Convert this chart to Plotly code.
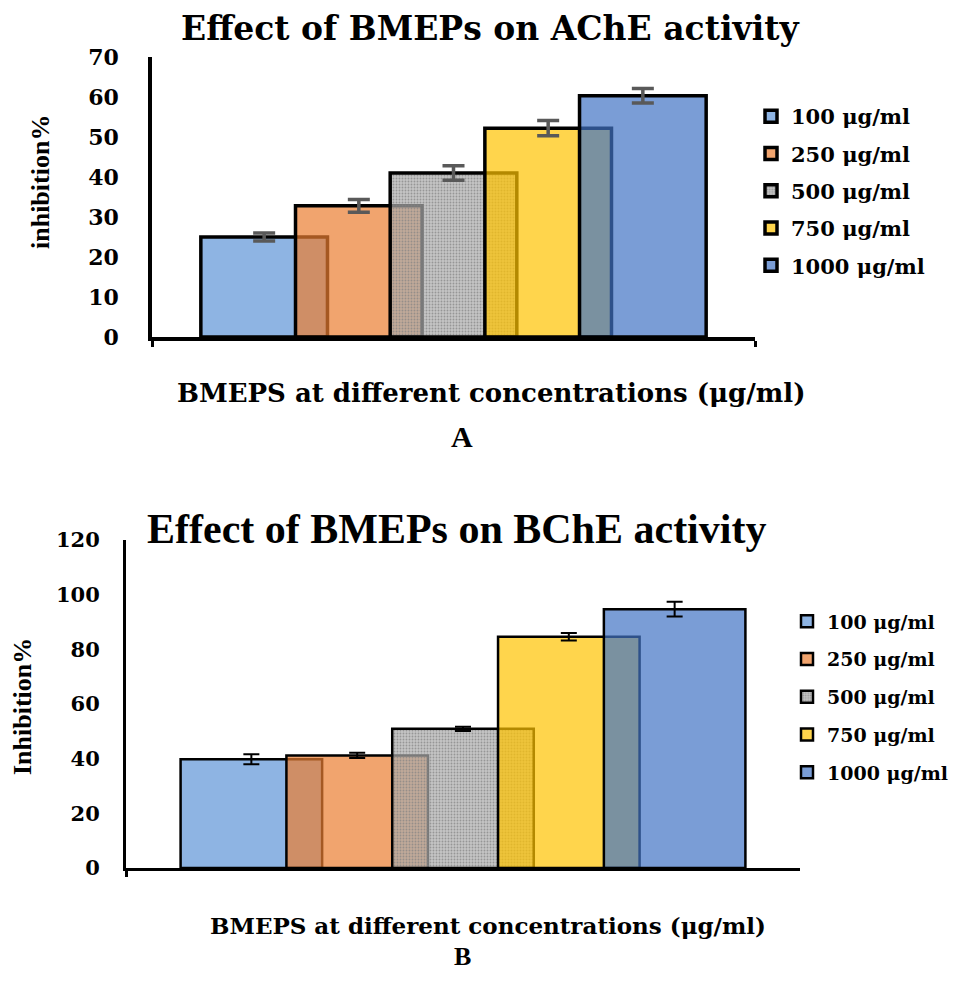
import plotly.graph_objects as go

# ---------------- data ----------------
concentrations = ["100 μg/ml", "250 μg/ml", "500 μg/ml", "750 μg/ml", "1000 μg/ml"]
category = ["BMEPS"]
ache_inhibition = [25.0, 32.8, 41.0, 52.2, 60.3]
ache_error = [1.0, 1.6, 1.8, 1.9, 1.8]
bche_inhibition = [39.8, 41.2, 50.9, 84.6, 94.7]
bche_error = [1.8, 1.0, 0.8, 1.4, 2.7]
ache_ticks = [0, 10, 20, 30, 40, 50, 60, 70]
bche_ticks = [0, 20, 40, 60, 80, 100, 120]

# ---------------- style ----------------
# page body has an 8px margin, so the figure is sized to fit the window
OX, OY = 8, 8
FW, FH = 943, 968
SERIF = "Liberation Serif, Times New Roman, serif"
WIDE = "DejaVu Serif, serif"
FILL = [
    "rgba(94,148,215,0.7)",
    "rgba(235,126,49,0.7)",
    "rgba(172,172,172,0.7)",
    "rgba(255,195,0,0.7)",
    "rgba(66,115,197,0.7)",
]
BAR_W = 0.21
STEP = 0.157
FIRST = -0.419


def px(x):
    return (x - OX) / FW


def py(y):
    return 1 - (y - OY) / FH


fig = go.Figure()

panels = [
    dict(vals=ache_inhibition, errs=ache_error, xa="x", ya="y", leg="legend", tag="A",
         lw=3.5, ecol="#595959", eth=3.5, ew=11),
    dict(vals=bche_inhibition, errs=bche_error, xa="x2", ya="y2", leg="legend2", tag="B",
         lw=2.5, ecol="black", eth=2, ew=8),
]

for p in panels:
    for i, (name, v, e) in enumerate(zip(concentrations, p["vals"], p["errs"])):
        marker = dict(color=FILL[i], line=dict(color="black", width=p["lw"]))
        if i == 2:
            marker["pattern"] = dict(shape=".", fillmode="replace", bgcolor=FILL[i],
                                     fgcolor="rgba(130,130,130,0.7)", size=3, solidity=0.3)
        fig.add_trace(go.Bar(
            x=category, y=[v], name=name,
            width=[BAR_W], offset=[FIRST + i * STEP],
            marker=marker,
            error_y=dict(type="data", array=[e], color=p["ecol"],
                         thickness=p["eth"], width=p["ew"]),
            xaxis=p["xa"], yaxis=p["ya"], legend=p["leg"],
            legendgroup=p["tag"] + name,
            hoverinfo="skip",
        ))

xcommon = dict(type="category", range=[-0.5, 0.5], showline=True, linecolor="black",
               tickson="boundaries", ticks="outside", ticklen=6, tickwidth=3,
               tickcolor="black", showticklabels=False, showgrid=False,
               zeroline=False, fixedrange=True, automargin=False)
ycommon = dict(showline=True, linecolor="black", ticks="", showgrid=False,
               zeroline=False, fixedrange=True, automargin=False)

fig.update_layout(
    width=FW, height=FH, autosize=False,
    margin=dict(l=0, r=0, t=0, b=0, pad=0, autoexpand=False),
    paper_bgcolor="white", plot_bgcolor="white",
    barmode="overlay",
    font=dict(family=SERIF, color="black"),
    xaxis=dict(domain=[px(152), px(755)], anchor="y", linewidth=3.5, **xcommon),
    yaxis=dict(domain=[py(337), py(57)], anchor="x", range=[0, 70],
               tickmode="array", tickvals=ache_ticks, linewidth=3.5,
               tickfont=dict(family=WIDE, size=22, weight="bold", color="black"),
               ticklabelstandoff=25, **ycommon),
    xaxis2=dict(domain=[px(126), px(800)], anchor="y2", linewidth=3, **xcommon),
    yaxis2=dict(domain=[py(868), py(540)], anchor="x2", range=[0, 120],
                tickmode="array", tickvals=bche_ticks, linewidth=3,
                tickfont=dict(family=WIDE, size=21, weight="bold", color="black"),
                ticklabelstandoff=19, **ycommon),
    legend=dict(x=px(751), y=py(96), xanchor="left", yanchor="top",
                bgcolor="rgba(0,0,0,0)", borderwidth=0, tracegroupgap=7,
                font=dict(family=WIDE, size=21, weight="bold", color="black")),
    legend2=dict(x=px(787), y=py(602.5), xanchor="left", yanchor="top",
                 bgcolor="rgba(0,0,0,0)", borderwidth=0, tracegroupgap=10,
                 font=dict(family=WIDE, size=19, weight="bold", color="black")),
)

annotations = [
    dict(text="Effect of BMEPs on AChE activity", x=490, y=28, size=33, fam=WIDE, angle=0),
    dict(text="inhibition%", x=40, y=182, size=26, fam=SERIF, angle=-90),
    dict(text="BMEPS at different concentrations (μg/ml)", x=491, y=393, size=26, fam=WIDE, angle=0),
    dict(text="A", x=462, y=436, size=30, fam=SERIF, angle=0),
    dict(text="Effect of BMEPs on BChE activity", x=456, y=529, size=42, fam=SERIF, angle=0),
    dict(text="Inhibition%", x=22, y=707, size=26, fam=SERIF, angle=-90),
    dict(text="BMEPS at different concentrations (μg/ml)", x=488, y=925, size=23, fam=WIDE, angle=0),
    dict(text="B", x=462, y=956, size=26, fam=SERIF, angle=0),
]
for a in annotations:
    fig.add_annotation(text=a["text"], x=px(a["x"]), y=py(a["y"]), xref="paper", yref="paper",
                       xanchor="center", yanchor="middle", showarrow=False,
                       textangle=a["angle"], borderpad=0,
                       font=dict(family=a["fam"], size=a["size"], weight="bold", color="black"))

fig.write_html("out.html")
